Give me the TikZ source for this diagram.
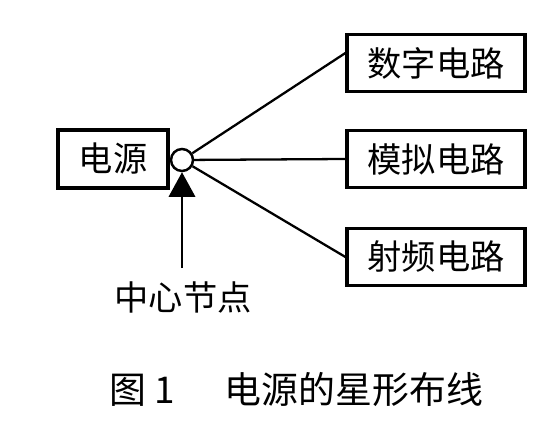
\documentclass[tikz,border=0pt]{standalone}
\usepackage{fontspec}
\setmainfont{Noto Sans CJK SC}
\usetikzlibrary{arrows.meta}

\begin{document}
\begin{tikzpicture}[x=0.02cm,y=-0.02cm,
  blockbox/.style={draw,line width=1.8pt,minimum width=110*0.02cm,minimum height=58*0.02cm,inner sep=0pt,font=\fontsize{19.5}{19.5}\selectfont},
  circuitbox/.style={blockbox,minimum width=178*0.02cm,minimum height=57*0.02cm},
  wire/.style={line width=1.3pt}]
  \useasboundingbox (0,0) rectangle (557,432);
  \node[blockbox] (power) at (113,159) {电源};
  \node[draw,circle,line width=1.4pt,minimum size=22*0.02cm,inner sep=0pt] (hub) at (182,160) {};
  \node[circuitbox] (digital) at (436,63) {数字电路};
  \node[circuitbox] (analog) at (436,159) {模拟电路};
  \node[circuitbox] (rf) at (436,257) {射频电路};
  \draw[wire] (hub) -- ([yshift=0.2cm]digital.west);
  \draw[wire] (hub) -- (analog.west);
  \draw[wire] (hub) -- (rf.west);
  % pointer to the star point
  \coordinate (tail) at (182,268);
  \draw[wire,-{Triangle[width=15pt,length=14pt]}] (tail) -- (hub.south);
  \node[font=\fontsize{19.5}{19.5}\selectfont] (hublabel) at (183,297) {中心节点};
  \node[font=\fontsize{21}{21}\selectfont] (caption) at (296,390) {图 1\hspace{1cm}电源的星形布线};
\end{tikzpicture}
\end{document}
